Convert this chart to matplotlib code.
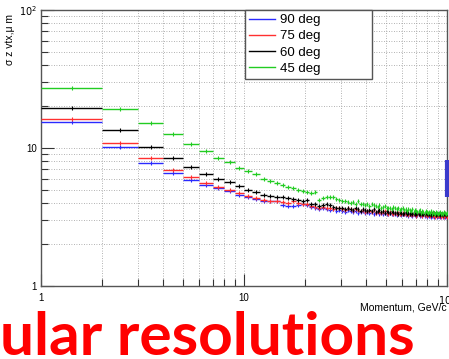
import matplotlib
matplotlib.use("Agg")
import matplotlib.pyplot as plt
from matplotlib.ticker import FixedLocator, NullFormatter
import numpy as np

# bin edges, GeV/c (1 GeV/c wide bins from 1 to 100)
bin_edges = list(range(1, 101))

sigma_90 = [
    15.4, 10.2, 7.75, 6.6, 5.9, 5.4, 5.1, 4.85, 4.55, 4.4,
    4.25, 4.15, 4.15, 4.1, 3.85, 3.8, 3.8, 3.85, 3.9, 3.85,
    3.75, 3.7, 3.6, 3.65, 3.6, 3.55, 3.6, 3.5, 3.55, 3.5,
    3.45, 3.55, 3.5, 3.45, 3.5, 3.4, 3.45, 3.5, 3.4, 3.45,
    3.4, 3.45, 3.35, 3.4, 3.45, 3.35, 3.4, 3.3, 3.4, 3.35,
    3.3, 3.4, 3.35, 3.3, 3.35, 3.25, 3.35, 3.3, 3.25, 3.35,
    3.3, 3.25, 3.3, 3.2, 3.3, 3.25, 3.2, 3.3, 3.25, 3.2,
    3.25, 3.3, 3.2, 3.25, 3.2, 3.3, 3.2, 3.25, 3.15, 3.25,
    3.2, 3.25, 3.15, 3.2, 3.25, 3.15, 3.2, 3.25, 3.15, 3.2,
    3.2, 3.15, 3.2, 3.25, 3.15, 3.2, 3.15, 3.2, 3.15,
]
sigma_75 = [
    16.1, 10.9, 8.4, 6.95, 6.2, 5.6, 5.25, 4.95, 4.7, 4.5,
    4.35, 4.2, 4.15, 4.1, 4.05, 4.0, 4.1, 4.0, 3.95, 3.9,
    3.8, 3.75, 3.7, 3.75, 3.65, 3.7, 3.6, 3.65, 3.7, 3.6,
    3.55, 3.65, 3.6, 3.5, 3.6, 3.55, 3.5, 3.55, 3.45, 3.5,
    3.5, 3.45, 3.55, 3.4, 3.5, 3.45, 3.4, 3.45, 3.5, 3.4,
    3.35, 3.45, 3.4, 3.35, 3.4, 3.3, 3.4, 3.35, 3.3, 3.4,
    3.35, 3.3, 3.4, 3.25, 3.35, 3.3, 3.25, 3.35, 3.3, 3.2,
    3.3, 3.35, 3.25, 3.3, 3.2, 3.3, 3.25, 3.3, 3.2, 3.25,
    3.3, 3.2, 3.25, 3.3, 3.2, 3.25, 3.15, 3.3, 3.2, 3.25,
    3.2, 3.25, 3.15, 3.25, 3.2, 3.15, 3.25, 3.2, 3.15,
]
sigma_60 = [
    19.6, 13.4, 10.1, 8.4, 7.3, 6.45, 6.0, 5.7, 5.3, 5.0,
    4.8, 4.55, 4.5, 4.45, 4.4, 4.35, 4.3, 4.2, 4.1, 4.2,
    3.95, 3.9, 3.8, 3.85, 3.9, 3.85, 3.75, 3.7, 3.65, 3.7,
    3.6, 3.7, 3.6, 3.55, 3.65, 3.6, 3.5, 3.6, 3.55, 3.5,
    3.55, 3.5, 3.6, 3.45, 3.5, 3.55, 3.45, 3.5, 3.4, 3.5,
    3.45, 3.4, 3.5, 3.45, 3.4, 3.45, 3.35, 3.45, 3.4, 3.35,
    3.4, 3.45, 3.35, 3.4, 3.3, 3.4, 3.35, 3.4, 3.3, 3.35,
    3.4, 3.3, 3.35, 3.4, 3.3, 3.35, 3.3, 3.4, 3.3, 3.35,
    3.3, 3.35, 3.25, 3.35, 3.3, 3.4, 3.3, 3.25, 3.35, 3.3,
    3.3, 3.25, 3.35, 3.3, 3.25, 3.3, 3.35, 3.25, 3.3,
]
sigma_45 = [
    27.4, 19.2, 15.1, 12.6, 10.7, 9.5, 8.5, 7.9, 7.2, 6.8,
    6.45, 6.0, 5.75, 5.55, 5.35, 5.25, 5.15, 5.0, 4.9, 4.8,
    4.75, 4.8, 4.2, 4.35, 4.4, 4.45, 4.4, 4.3, 4.2, 4.15,
    4.1, 4.05, 4.0, 4.05, 3.95, 4.1, 3.9, 3.95, 3.85, 3.9,
    3.8, 3.95, 3.85, 3.8, 3.75, 3.85, 3.7, 3.75, 3.8, 3.7,
    3.65, 3.7, 3.6, 3.75, 3.65, 3.6, 3.7, 3.55, 3.6, 3.65,
    3.55, 3.6, 3.5, 3.6, 3.55, 3.5, 3.6, 3.45, 3.55, 3.5,
    3.45, 3.5, 3.55, 3.4, 3.5, 3.45, 3.4, 3.5, 3.45, 3.4,
    3.45, 3.4, 3.5, 3.35, 3.45, 3.4, 3.35, 3.45, 3.4, 3.35,
    3.4, 3.45, 3.35, 3.4, 3.35, 3.45, 3.4, 3.35, 3.4,
]
# stray blue bar at the right edge (x = 100)
edge_bar = [4.4, 8.2]

series = [
    ("90 deg", sigma_90, "#2a2aff"),
    ("75 deg", sigma_75, "#ff3030"),
    ("60 deg", sigma_60, "#000000"),
    ("45 deg", sigma_45, "#22cc22"),
]

plt.rcParams['font.family'] = ['Liberation Sans', 'DejaVu Sans']

fig = plt.figure(figsize=(4.49, 3.59), dpi=100)
ax = fig.add_axes([41 / 449, 73 / 359, 406 / 449, 276 / 359])

lo = np.array(bin_edges[:-1], dtype=float)
hi = np.array(bin_edges[1:], dtype=float)
centers = np.sqrt(lo * hi)

for label, vals, color in series:
    ax.hlines(vals, lo, hi, colors=color, lw=1.0, zorder=3)
    ax.plot(centers, vals, ls='none', marker='|', ms=3, mew=0.8, color=color, zorder=3)
    ax.plot([], [], color=color, lw=1.0, label=label)

ax.vlines(100, edge_bar[0], edge_bar[1], colors="#3a3acc", lw=3, clip_on=False, zorder=4)

ax.set_xscale('log')
ax.set_yscale('log')
ax.set_xlim(1, 100)
ax.set_ylim(1, 100)

ax.xaxis.set_major_locator(FixedLocator([1, 10, 100]))
ax.yaxis.set_major_locator(FixedLocator([1, 10, 100]))
ax.set_xticklabels(['1', '10', r'$10^{2}$'], fontsize=7)
ax.set_yticklabels(['1', '10', r'$10^{2}$'], fontsize=7)
ax.xaxis.set_minor_formatter(NullFormatter())
ax.yaxis.set_minor_formatter(NullFormatter())

ax.tick_params(which='both', direction='in', color='#333333')
ax.tick_params(which='major', length=9, width=0.8)
ax.tick_params(which='minor', length=5, width=0.8)
ax.tick_params(axis='x', pad=5)
ax.tick_params(axis='y', pad=3)

ax.grid(True, which='both', color='#999999', lw=0.6, ls=(0, (1, 2)))
ax.set_axisbelow(True)

for s in ax.spines.values():
    s.set_color('#555555')
    s.set_linewidth(1.0)

leg = ax.legend(loc='upper left', bbox_to_anchor=(0.502, 0.75, 0.313, 0.25),
                mode='expand', borderaxespad=0,
                fontsize=9.5, frameon=True, fancybox=False, framealpha=1,
                edgecolor='#555555', handlelength=2.0, handletextpad=0.4,
                labelspacing=0.3, borderpad=0.3)
leg.get_frame().set_linewidth(1.0)
leg.set_zorder(10)

ax.text(1.0, -0.078, "Momentum, GeV/c", transform=ax.transAxes,
        ha='right', va='center', fontsize=7.5)
fig.text(10 / 449, 1 - 14 / 359, "σ z vtx,μ m", rotation=90,
         ha='center', va='top', fontsize=7.5)

fig.text(0.0, 4 / 359, "ular resolutions", color='#ff0000', fontsize=43.5,
         fontweight='bold', family=['Lato', 'DejaVu Sans'], ha='left', va='baseline')

fig.savefig("out.png", dpi=100)
